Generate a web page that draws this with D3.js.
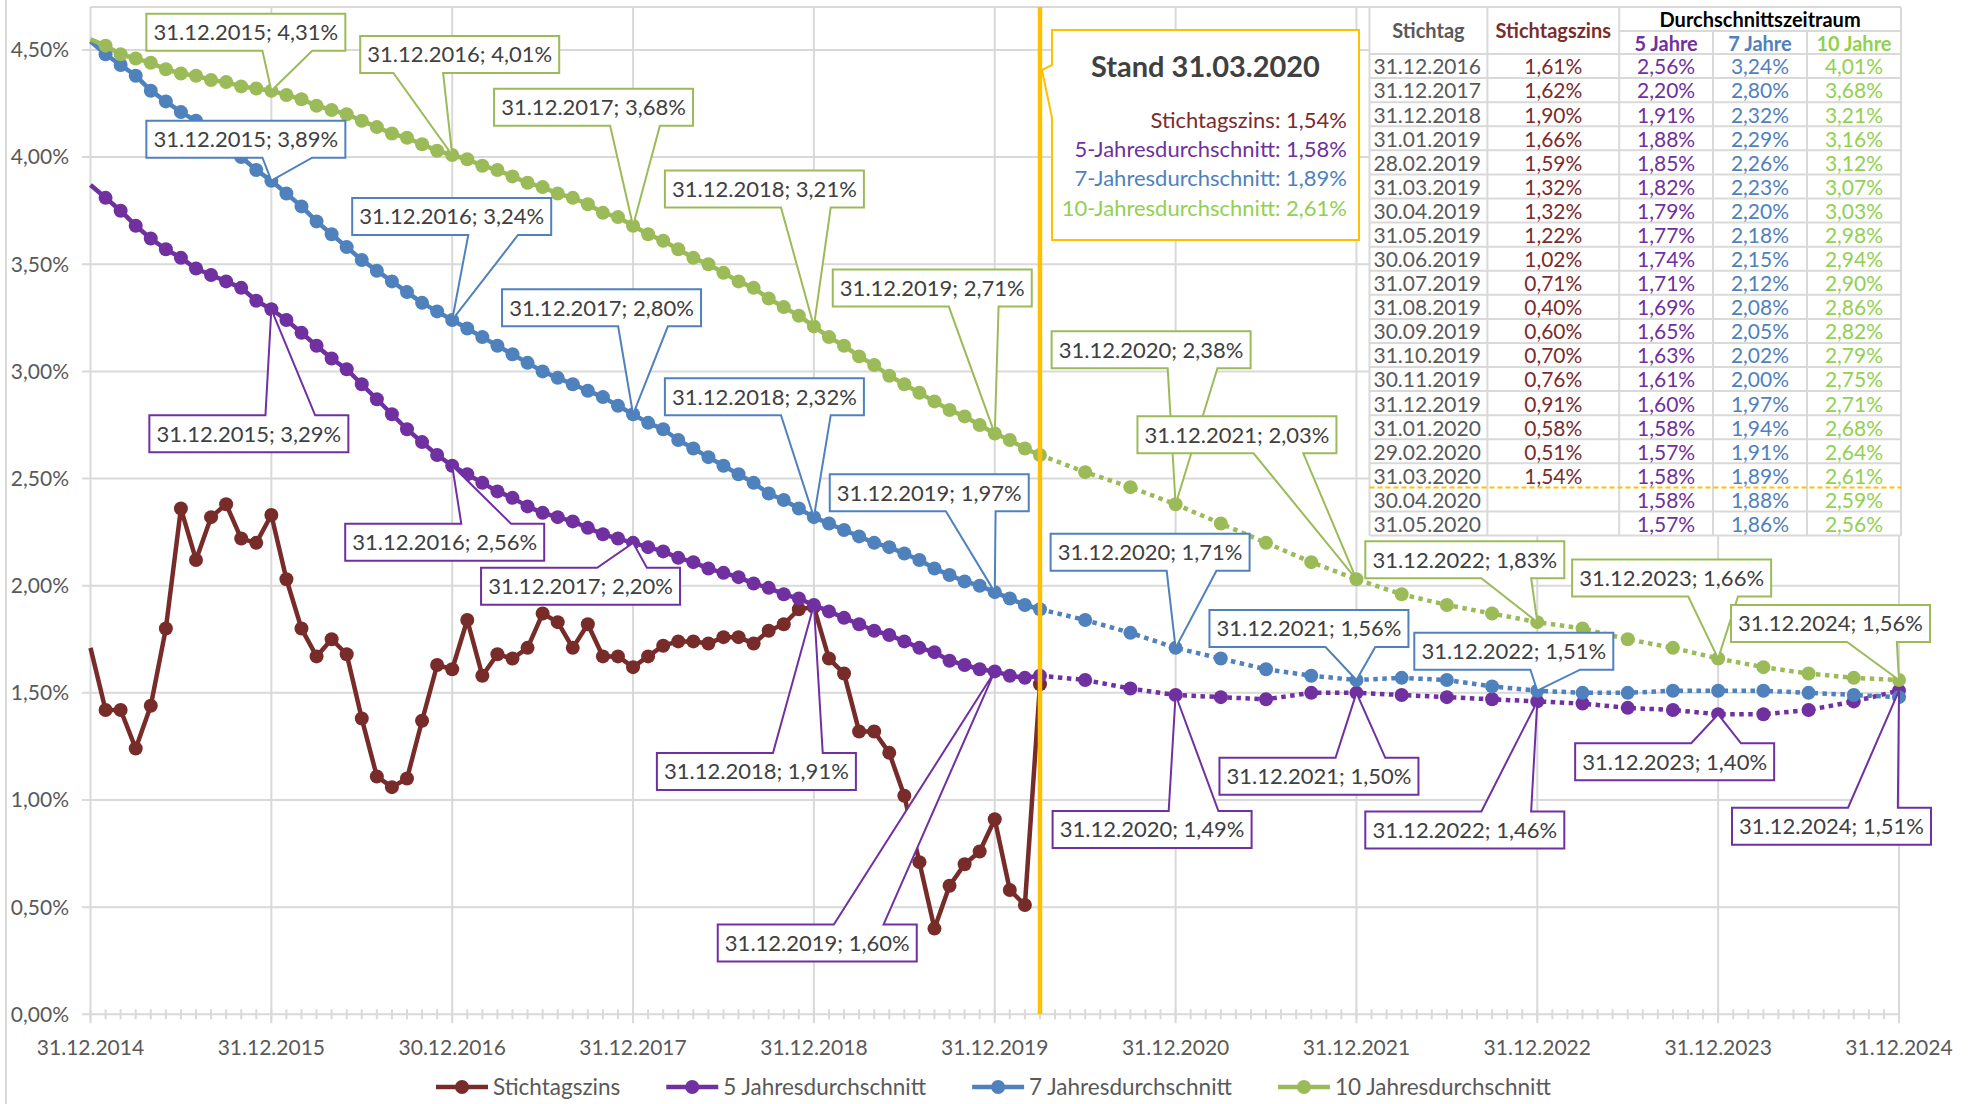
<!DOCTYPE html>
<html><head><meta charset="utf-8">
<script src="https://cdn.jsdelivr.net/npm/d3@7"></script>
<style>body{margin:0;background:#fff}svg{display:block;font-family:Lato,"Open Sans",sans-serif}</style>
</head><body>
<svg id="chart" width="1971" height="1104"></svg>
<script>
// ---------- DATA ----------
const xTickLabels = ["31.12.2014","31.12.2015","30.12.2016","31.12.2017","31.12.2018","31.12.2019","31.12.2020","31.12.2021","31.12.2022","31.12.2023","31.12.2024"];
const yearEndLabels = ["31.12.2014","31.12.2015","31.12.2016","31.12.2017","31.12.2018","31.12.2019","31.12.2020","31.12.2021","31.12.2022","31.12.2023","31.12.2024"];
// monthly values, month index 0 = 31.12.2014 ... 63 = 31.03.2020
const stichtagszins = [1.71,1.42,1.42,1.24,1.44,1.80,2.36,2.12,2.32,2.38,2.22,2.20,2.33,2.03,1.80,1.67,1.75,1.68,1.38,1.11,1.06,1.10,1.37,1.63,1.61,1.84,1.58,1.68,1.66,1.71,1.87,1.83,1.71,1.82,1.67,1.67,1.62,1.67,1.72,1.74,1.74,1.73,1.76,1.76,1.73,1.79,1.82,1.89,1.90,1.66,1.59,1.32,1.32,1.22,1.02,0.71,0.40,0.60,0.70,0.76,0.91,0.58,0.51,1.54];
const avg5 = [3.87,3.81,3.75,3.68,3.62,3.57,3.53,3.48,3.45,3.42,3.39,3.33,3.29,3.24,3.18,3.12,3.06,3.01,2.94,2.87,2.80,2.73,2.67,2.61,2.56,2.52,2.48,2.44,2.41,2.37,2.34,2.32,2.30,2.27,2.24,2.22,2.20,2.18,2.16,2.13,2.11,2.08,2.06,2.04,2.01,1.99,1.96,1.94,1.91,1.88,1.85,1.82,1.79,1.77,1.74,1.71,1.69,1.65,1.63,1.61,1.60,1.58,1.57,1.58];
const avg7 = [4.54,4.48,4.43,4.38,4.31,4.26,4.21,4.17,4.12,4.06,4.00,3.94,3.89,3.83,3.77,3.70,3.64,3.58,3.52,3.47,3.42,3.37,3.32,3.28,3.24,3.20,3.16,3.12,3.08,3.04,3.00,2.97,2.94,2.91,2.88,2.84,2.80,2.76,2.73,2.68,2.64,2.60,2.56,2.52,2.48,2.43,2.40,2.36,2.32,2.29,2.26,2.23,2.20,2.18,2.15,2.12,2.08,2.05,2.02,2.00,1.97,1.94,1.91,1.89];
const avg10 = [4.55,4.52,4.48,4.46,4.44,4.41,4.39,4.38,4.36,4.35,4.33,4.32,4.31,4.29,4.27,4.24,4.22,4.20,4.17,4.14,4.11,4.09,4.06,4.03,4.01,3.99,3.96,3.94,3.91,3.88,3.86,3.83,3.81,3.78,3.74,3.72,3.68,3.64,3.61,3.57,3.53,3.50,3.46,3.42,3.39,3.34,3.30,3.26,3.21,3.16,3.12,3.07,3.03,2.98,2.94,2.90,2.86,2.82,2.79,2.75,2.71,2.68,2.64,2.61];
// quarterly forecast, 30.06.2020 ... 31.12.2024
const forecast5 = [1.56,1.52,1.49,1.48,1.47,1.50,1.50,1.49,1.48,1.47,1.46,1.45,1.43,1.42,1.40,1.40,1.42,1.46,1.51];
const forecast7 = [1.84,1.78,1.71,1.66,1.61,1.58,1.56,1.57,1.56,1.53,1.51,1.50,1.50,1.51,1.51,1.51,1.50,1.49,1.48];
const forecast10 = [2.53,2.46,2.38,2.29,2.20,2.11,2.03,1.96,1.91,1.87,1.83,1.80,1.75,1.71,1.66,1.62,1.59,1.57,1.56];
const forecastMonths = d3.range(66, 121, 3);
const standIndex = 63;
const standLabel = "31.03.2020";
// table
const tableDates = ["31.12.2016","31.12.2017","31.12.2018","31.01.2019","28.02.2019","31.03.2019","30.04.2019","31.05.2019","30.06.2019","31.07.2019","31.08.2019","30.09.2019","31.10.2019","30.11.2019","31.12.2019","31.01.2020","29.02.2020","31.03.2020","30.04.2020","31.05.2020"];
const tableStz = [1.61,1.62,1.90,1.66,1.59,1.32,1.32,1.22,1.02,0.71,0.40,0.60,0.70,0.76,0.91,0.58,0.51,1.54,null,null];
const table5 = [2.56,2.20,1.91,1.88,1.85,1.82,1.79,1.77,1.74,1.71,1.69,1.65,1.63,1.61,1.60,1.58,1.57,1.58,1.58,1.57];
const table7 = [3.24,2.80,2.32,2.29,2.26,2.23,2.20,2.18,2.15,2.12,2.08,2.05,2.02,2.00,1.97,1.94,1.91,1.89,1.88,1.86];
const table10 = [4.01,3.68,3.21,3.16,3.12,3.07,3.03,2.98,2.94,2.90,2.86,2.82,2.79,2.75,2.71,2.68,2.64,2.61,2.59,2.56];

// ---------- LAYOUT ----------
const svg = d3.select('#chart');
const x = d3.scaleLinear().domain([0,120]).range([90.5,1899]);
const y = d3.scaleLinear().domain([0,4.7]).range([1014.3,7.1]);
const fmt = v => d3.format('.2f')(v).replace('.',',') + '%';
const GRID = '#d9d9d9', AX = '#595959';

const series = [
  {key:'stz',  name:'Stichtagszins',         color:'#772c2a', hist:stichtagszins, fc:null},
  {key:'avg5', name:'5 Jahresdurchschnitt',  color:'#7030a0', hist:avg5,  fc:forecast5},
  {key:'avg7', name:'7 Jahresdurchschnitt',  color:'#4f81bd', hist:avg7,  fc:forecast7},
  {key:'avg10',name:'10 Jahresdurchschnitt', color:'#9bbb59', hist:avg10, fc:forecast10}
];
const byKey = Object.fromEntries(series.map(s=>[s.key,s]));
function valueAt(s,i){ return i<=standIndex ? s.hist[i] : s.fc[forecastMonths.indexOf(i)]; }

// chart border (left edge)
svg.append('line').attr('x1',6).attr('x2',6).attr('y1',0).attr('y2',1104).attr('stroke',GRID).attr('stroke-width',2);

// gridlines
const g = svg.append('g');
const yTicks = d3.range(0,4.51,0.5);
g.selectAll('.hg').data(yTicks).join('line')
  .attr('x1',82).attr('x2',x(120)).attr('y1',d=>y(d)).attr('y2',d=>y(d))
  .attr('stroke',GRID).attr('stroke-width',2);
g.append('line').attr('x1',x(0)).attr('x2',x(120)).attr('y1',y(4.7)).attr('y2',y(4.7)).attr('stroke',GRID).attr('stroke-width',2);
const yearIdx = d3.range(0,121,12);
g.selectAll('.vg').data(yearIdx).join('line')
  .attr('x1',d=>x(d)).attr('x2',d=>x(d)).attr('y1',y(4.7)).attr('y2',y(0)+9)
  .attr('stroke',GRID).attr('stroke-width',2);
g.selectAll('.mt').data(d3.range(0,121)).join('line')
  .attr('x1',d=>x(d)).attr('x2',d=>x(d)).attr('y1',y(0)-5).attr('y2',y(0)+5)
  .attr('stroke',GRID).attr('stroke-width',2);

// axis labels
g.selectAll('.yl').data(yTicks).join('text')
  .attr('x',69).attr('y',d=>y(d)).attr('dy','0.35em').attr('text-anchor','end')
  .attr('font-size',21).attr('fill',AX).text(d=>fmt(d));
g.selectAll('.xl').data(xTickLabels).join('text')
  .attr('x',(d,i)=>x(i*12)).attr('y',y(0)+33).attr('dy','0.35em').attr('text-anchor','middle')
  .attr('font-size',21).attr('fill',AX).text(d=>d);

// series
const line = d3.line().x(d=>x(d.i)).y(d=>y(d.v));
const R = 7;
series.forEach(s=>{
  const hist = s.hist.map((v,i)=>({i,v}));
  const gs = svg.append('g');
  gs.append('path').attr('d',line(hist)).attr('fill','none').attr('stroke',s.color)
    .attr('stroke-width',4.5).attr('stroke-linejoin','round');
  if(s.fc){
    const fcd = [{i:standIndex,v:s.hist[standIndex]}].concat(s.fc.map((v,k)=>({i:forecastMonths[k],v})));
    gs.append('path').attr('d',line(fcd)).attr('fill','none').attr('stroke',s.color)
      .attr('stroke-width',4.5).attr('stroke-dasharray','4.5,4.5');
    gs.selectAll('.fm').data(fcd.slice(1)).join('circle')
      .attr('cx',d=>x(d.i)).attr('cy',d=>y(d.v)).attr('r',R).attr('fill',s.color);
  }
  gs.selectAll('.hm').data(hist.slice(1)).join('circle')
    .attr('cx',d=>x(d.i)).attr('cy',d=>y(d.v)).attr('r',R).attr('fill',s.color);
});

// callouts (Excel wedgeRectCallout geometry)
function wedgePath(l,t,w,h,px,py){
  const r=l+w,b=t+h,hc=l+w/2,vc=t+h/2;
  const dx=px-hc, dy=py-vc, dq=dx*h/w;
  const dz=Math.abs(dy)-Math.abs(dq);
  const x1=l+w*(dx>0?7:2)/12, x2=l+w*(dx>0?10:5)/12;
  const y1=t+h*(dy>0?7:2)/12, y2=t+h*(dy>0?10:5)/12;
  let p=`M${l},${t}`;
  if(dz>0&&dy<0) p+=`L${x1},${t}L${px},${py}L${x2},${t}`;
  p+=`L${r},${t}`;
  if(dz<=0&&dx>0) p+=`L${r},${y1}L${px},${py}L${r},${y2}`;
  p+=`L${r},${b}`;
  if(dz>0&&dy>0) p+=`L${x2},${b}L${px},${py}L${x1},${b}`;
  p+=`L${l},${b}`;
  if(dz<=0&&dx<0) p+=`L${l},${y2}L${px},${py}L${l},${y1}`;
  return p+'Z';
}
// [series, month index, box offset dx, dy relative to the point]
const callouts = [
 ['avg10',12,-125,-77],['avg10',24,-92,-119],['avg10',36,-139,-137],['avg10',48,-149,-156],['avg10',60,-162,-164],
 ['avg10',72,-124,-173],['avg10',84,-219,-163],['avg10',96,-172,-81],['avg10',108,-146,-99],['avg10',120,-168,-75],
 ['avg7',12,-125,-60],['avg7',24,-100,-122],['avg7',36,-131,-125],['avg7',48,-149,-139],['avg7',60,-165,-118],
 ['avg7',72,-125,-114],['avg7',84,-147,-70],['avg7',96,-123,-58],
 ['avg5',12,-122,106],['avg5',24,-107,58],['avg5',36,-152,25],['avg5',48,-157,148],['avg5',60,-277,253],
 ['avg5',72,-123,116],['avg5',84,-137,65],['avg5',96,-172,110],['avg5',108,-143,29],['avg5',120,-167,117]
];
const BW=199, BH=37;
const gc = svg.append('g');
callouts.forEach(([k,i,dx,dy])=>{
  const s=byKey[k], v=valueAt(s,i);
  const px=x(i), py=y(v), l=px+dx, t=py+dy;
  gc.append('path').attr('d',wedgePath(l,t,BW,BH,px,py)).attr('fill','#fff')
    .attr('stroke',s.color).attr('stroke-width',2);
  gc.append('text').attr('x',l+BW/2).attr('y',t+BH/2).attr('dy','0.36em').attr('text-anchor','middle')
    .attr('font-size',22).attr('fill','#404040').text(yearEndLabels[i/12]+'; '+fmt(v));
});

// vertical "Stand" line
svg.append('line').attr('x1',x(standIndex)).attr('x2',x(standIndex)).attr('y1',y(4.7)).attr('y2',y(0))
  .attr('stroke','#ffc000').attr('stroke-width',4.5);

// Stand box
const sb = {l:x(standIndex)+12, t:30, w:307, h:210};
const gsb = svg.append('g');
gsb.append('path').attr('d',wedgePath(sb.l,sb.t,sb.w,sb.h,x(standIndex)+2,70)).attr('fill','#fff')
  .attr('stroke','#ffc000').attr('stroke-width',2);
gsb.append('text').attr('x',sb.l+sb.w/2).attr('y',sb.t+47).attr('text-anchor','middle')
  .attr('font-size',29).attr('font-weight','bold').attr('fill','#404040').text('Stand '+standLabel);
const standLines = [
  ['Stichtagszins', stichtagszins[standIndex], '#7b2c2c'],
  ['5-Jahresdurchschnitt', avg5[standIndex], '#7030a0'],
  ['7-Jahresdurchschnitt', avg7[standIndex], '#4f81bd'],
  ['10-Jahresdurchschnitt', avg10[standIndex], '#92d050']
];
standLines.forEach((d,k)=>{
  gsb.append('text').attr('x',sb.l+sb.w-12).attr('y',sb.t+98+k*29.2).attr('text-anchor','end')
    .attr('font-size',22).attr('fill',d[2]).text(d[0]+': '+fmt(d[1]));
});

// table
const cols=[1369.5,1487.4,1619.2,1713,1807,1901];
const tTop=7, tMid=31, tHead=54, rowH=24.08, nRows=tableDates.length;
const tBot=tHead+nRows*rowH;
const gt = svg.append('g');
gt.append('rect').attr('x',cols[0]).attr('y',tTop).attr('width',cols[5]-cols[0]).attr('height',tBot-tTop).attr('fill','#fff');
const hl = (x1,x2,yy)=>gt.append('line').attr('x1',x1).attr('x2',x2).attr('y1',yy).attr('y2',yy).attr('stroke',GRID).attr('stroke-width',2);
const vl = (xx,y1,y2)=>gt.append('line').attr('x1',xx).attr('x2',xx).attr('y1',y1).attr('y2',y2).attr('stroke',GRID).attr('stroke-width',2);
hl(cols[0],cols[5],tTop); hl(cols[2],cols[5],tMid);
for(let r=0;r<=nRows;r++){ if(r!==18) hl(cols[0],cols[5],tHead+r*rowH); }
[0,1,2,5].forEach(c=>vl(cols[c],tTop,tBot));
[3,4].forEach(c=>vl(cols[c],tMid,tBot));
gt.append('line').attr('x1',cols[0]).attr('x2',cols[5]).attr('y1',tHead+18*rowH).attr('y2',tHead+18*rowH)
  .attr('stroke','#ffc000').attr('stroke-width',2).attr('stroke-dasharray','5,3');
const hdr=(txt,xx,yy,col,fs)=>gt.append('text').attr('x',xx).attr('y',yy).attr('dy','0.35em').attr('text-anchor','middle')
  .attr('font-size',fs||20).attr('font-weight','bold').attr('fill',col).text(txt);
hdr('Stichtag',(cols[0]+cols[1])/2,(tTop+tHead)/2,'#595959');
hdr('Stichtagszins',(cols[1]+cols[2])/2,(tTop+tHead)/2,'#7b2c2c');
hdr('Durchschnittszeitraum',(cols[2]+cols[5])/2,(tTop+tMid)/2+1,'#000000');
hdr('5 Jahre',(cols[2]+cols[3])/2,(tMid+tHead)/2+1,'#7030a0');
hdr('7 Jahre',(cols[3]+cols[4])/2,(tMid+tHead)/2+1,'#4f81bd');
hdr('10 Jahre',(cols[4]+cols[5])/2,(tMid+tHead)/2+1,'#92d050');
const colDefs=[[tableStz,'#7b2c2c'],[table5,'#7030a0'],[table7,'#4f81bd'],[table10,'#92d050']];
tableDates.forEach((d,r)=>{
  const cy=tHead+r*rowH+rowH/2+1;
  gt.append('text').attr('x',cols[0]+4).attr('y',cy).attr('dy','0.35em').attr('font-size',21).attr('fill','#595959').text(d);
  colDefs.forEach(([arr,col],c)=>{
    if(arr[r]==null) return;
    gt.append('text').attr('x',(cols[c+1]+cols[c+2])/2).attr('y',cy).attr('dy','0.35em').attr('text-anchor','middle')
      .attr('font-size',21).attr('fill',col).text(fmt(arr[r]));
  });
});

// legend
const gl = svg.append('g');
let lx = 436; const ly = 1087;
series.forEach(s=>{
  gl.append('line').attr('x1',lx).attr('x2',lx+52).attr('y1',ly).attr('y2',ly).attr('stroke',s.color).attr('stroke-width',4.5);
  gl.append('circle').attr('cx',lx+26).attr('cy',ly).attr('r',R).attr('fill',s.color);
  const t = gl.append('text').attr('x',lx+57).attr('y',ly).attr('dy','0.35em').attr('font-size',22.5).attr('fill',AX).text(s.name);
  lx += 57 + t.node().getComputedTextLength() + 46;
});
</script>
</body></html>
